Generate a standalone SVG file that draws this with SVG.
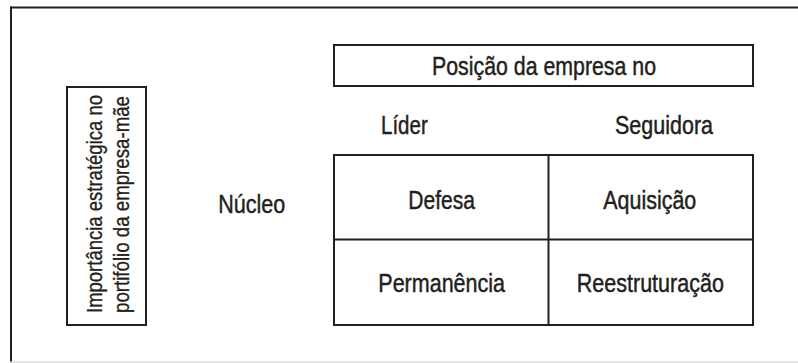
<svg xmlns="http://www.w3.org/2000/svg" width="798" height="363" viewBox="0 0 798 363">
  <style>
    .box { fill: none; stroke: #231f20; stroke-width: 2; }
    .frame { stroke: #231f20; stroke-width: 2; fill: none; }
    .t { font-family: "Liberation Sans", Arial, sans-serif; font-size: 25px; fill: #231f20; stroke: #231f20; stroke-width: 0.45px; }
    .tv { font-family: "Liberation Sans", Arial, sans-serif; font-size: 22px; fill: #231f20; stroke: #231f20; stroke-width: 0.35px; }
  </style>
  <rect x="0" y="0" width="798" height="363" fill="#ffffff"/>
  <g id="frame">
    <line class="frame" x1="10" y1="7.5" x2="798" y2="7.5"/>
    <line class="frame" x1="11" y1="6.5" x2="11" y2="363"/>
    <line x1="10" y1="362" x2="798" y2="362" stroke="#dddddd" stroke-width="1.5"/>
  </g>
  <g id="axis-importancia">
    <rect class="box" x="67" y="87" width="79" height="238"/>
    <text class="tv" transform="translate(102 313) rotate(-90)" textLength="218" lengthAdjust="spacingAndGlyphs">Importância estratégica no</text>
    <text class="tv" transform="translate(129 313) rotate(-90)" textLength="217" lengthAdjust="spacingAndGlyphs">portifólio da empresa-mãe</text>
  </g>
  <g id="axis-posicao">
    <rect class="box" x="334" y="45" width="419" height="41"/>
    <text class="t" x="432" y="75" textLength="224" lengthAdjust="spacingAndGlyphs">Posição da empresa no</text>
  </g>
  <g id="col-lider">
    <text class="t" x="381" y="134" textLength="46.7" lengthAdjust="spacingAndGlyphs">Líder</text>
  </g>
  <g id="col-seguidora">
    <text class="t" x="615" y="134" textLength="98" lengthAdjust="spacingAndGlyphs">Seguidora</text>
  </g>
  <g id="row-nucleo">
    <text class="t" x="218.3" y="213" textLength="67" lengthAdjust="spacingAndGlyphs">Núcleo</text>
  </g>
  <g id="matrix">
    <rect class="box" x="334" y="155" width="419" height="170"/>
  </g>
  <g id="connectors">
    <line class="box" x1="548.5" y1="155" x2="548.5" y2="325"/>
    <line class="box" x1="334" y1="239.5" x2="753" y2="239.5"/>
  </g>
  <g id="cell-defesa">
    <text class="t" x="408.3" y="209" textLength="66.7" lengthAdjust="spacingAndGlyphs">Defesa</text>
  </g>
  <g id="cell-aquisicao">
    <text class="t" x="603.3" y="209" textLength="93" lengthAdjust="spacingAndGlyphs">Aquisição</text>
  </g>
  <g id="cell-permanencia">
    <text class="t" x="378.3" y="291.5" textLength="126.7" lengthAdjust="spacingAndGlyphs">Permanência</text>
  </g>
  <g id="cell-reestruturacao">
    <text class="t" x="576.7" y="291.5" textLength="147.3" lengthAdjust="spacingAndGlyphs">Reestruturação</text>
  </g>
</svg>
